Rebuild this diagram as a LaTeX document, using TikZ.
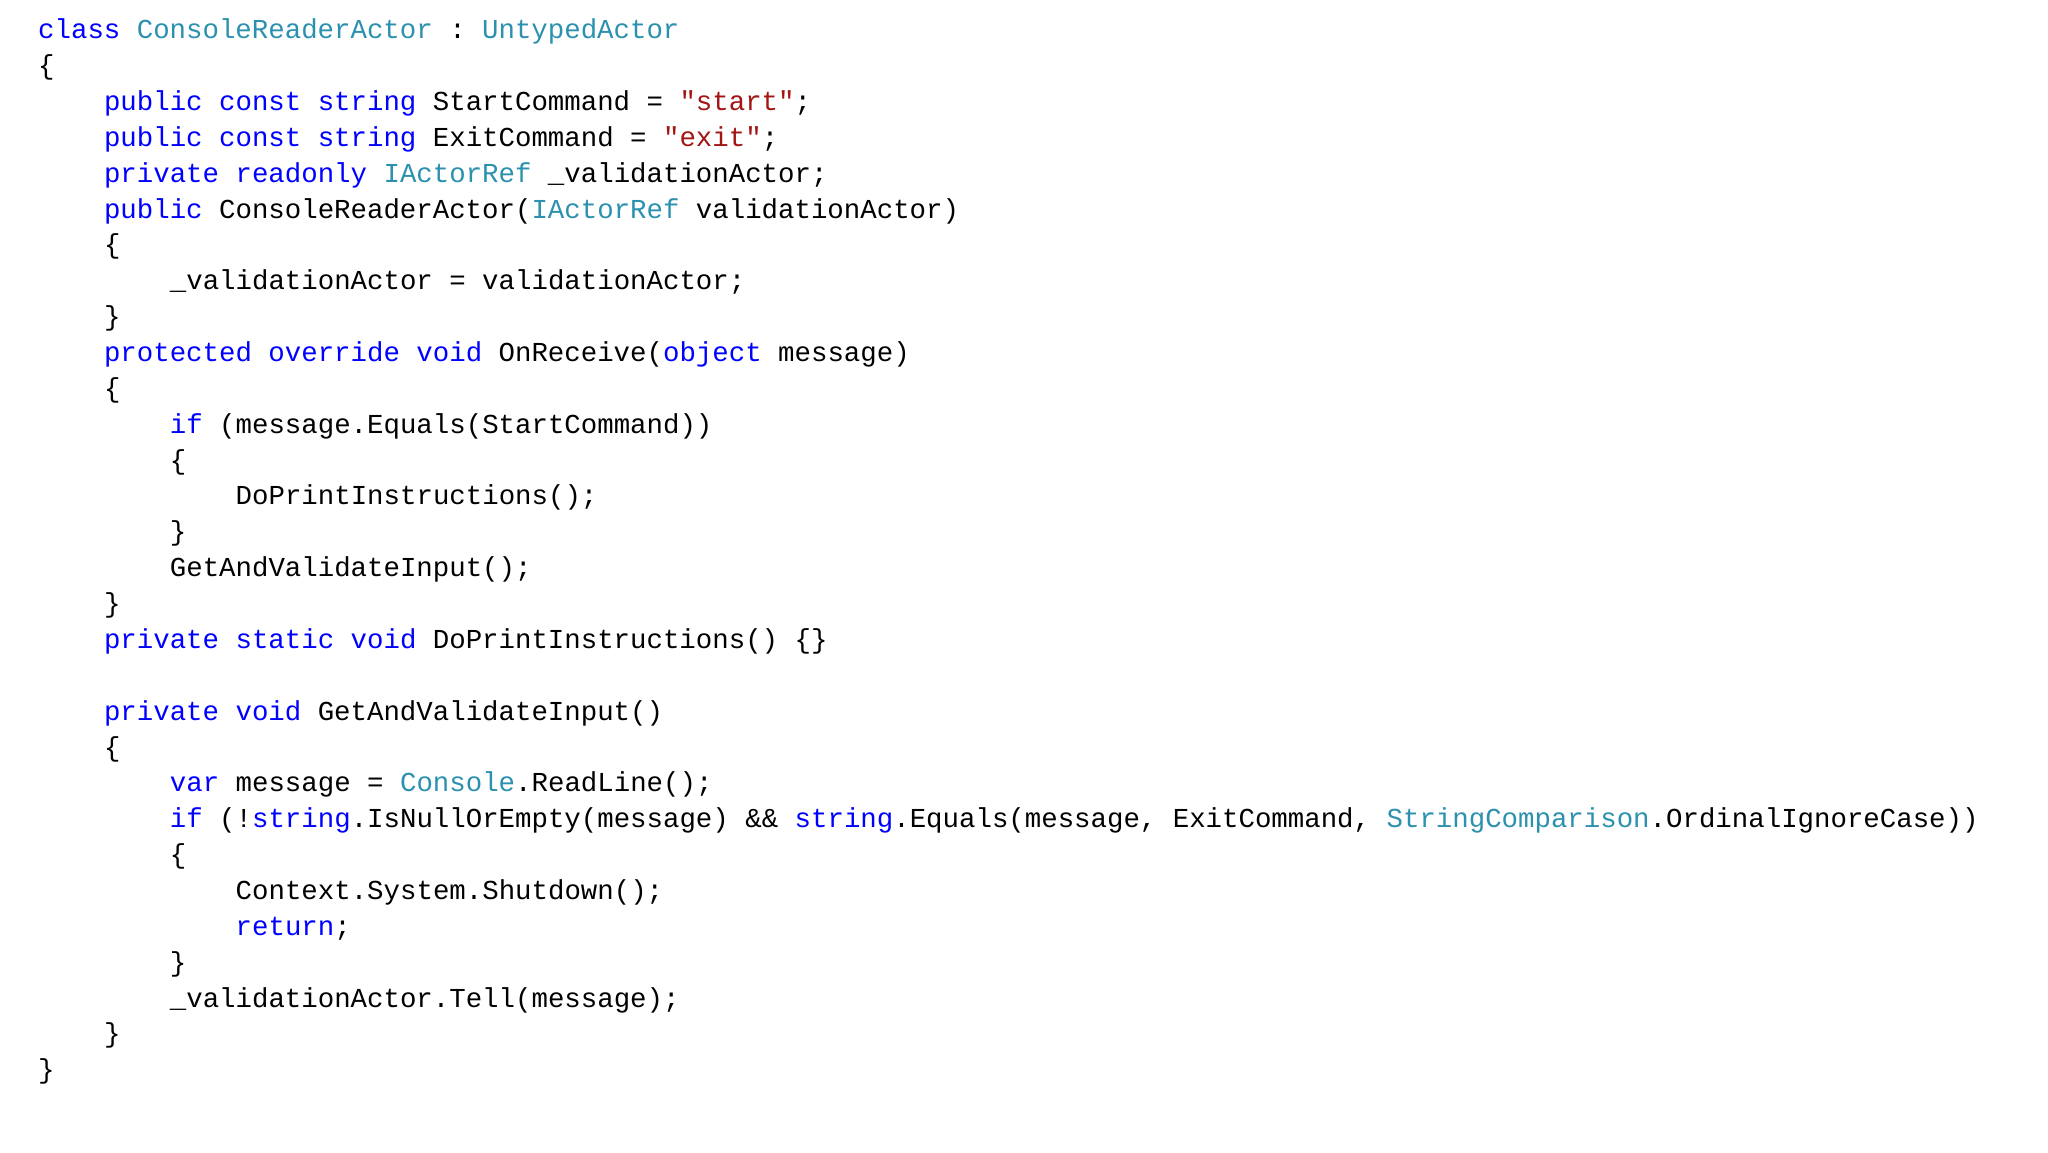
\documentclass[tikz,border=0pt]{standalone}
\usepackage{fontspec}
\setmonofont{Liberation Mono}
\definecolor{kwc}{HTML}{0000FF}
\definecolor{tyc}{HTML}{2B91AF}
\definecolor{stc}{HTML}{A31515}
\newcommand{\kw}[1]{\textcolor{kwc}{#1}}
\newcommand{\ty}[1]{\textcolor{tyc}{#1}}
\newcommand{\stx}[1]{\textcolor{stc}{#1}}
\tikzset{codeline/.style={anchor=base west,inner sep=0pt,font=\ttfamily\fontsize{13.7pt}{16pt}\selectfont}}
\begin{document}
\begin{tikzpicture}[x=1pt,y=-1pt]
\useasboundingbox (0,0) rectangle (1024,576);
\def\L#1#2#3{\node[codeline] (l#1) at ({18.9+#2*8.23},{19.4+#1*17.93}) {#3};}
\L{0}{0}{\kw{class} \ty{ConsoleReaderActor} : \ty{UntypedActor}}
\L{1}{0}{\{}
\L{2}{4}{\kw{public} \kw{const} \kw{string} StartCommand = \stx{"start"};}
\L{3}{4}{\kw{public} \kw{const} \kw{string} ExitCommand = \stx{"exit"};}
\L{4}{4}{\kw{private} \kw{readonly} \ty{IActorRef} \_validationActor;}
\L{5}{4}{\kw{public} ConsoleReaderActor(\ty{IActorRef} validationActor)}
\L{6}{4}{\{}
\L{7}{8}{\_validationActor = validationActor;}
\L{8}{4}{\}}
\L{9}{4}{\kw{protected} \kw{override} \kw{void} OnReceive(\kw{object} message)}
\L{10}{4}{\{}
\L{11}{8}{\kw{if} (message.Equals(StartCommand))}
\L{12}{8}{\{}
\L{13}{12}{DoPrintInstructions();}
\L{14}{8}{\}}
\L{15}{8}{GetAndValidateInput();}
\L{16}{4}{\}}
\L{17}{4}{\kw{private} \kw{static} \kw{void} DoPrintInstructions() \{\}}
\L{19}{4}{\kw{private} \kw{void} GetAndValidateInput()}
\L{20}{4}{\{}
\L{21}{8}{\kw{var} message = \ty{Console}.ReadLine();}
\L{22}{8}{\kw{if} (!\kw{string}.IsNullOrEmpty(message) \&\& \kw{string}.Equals(message, ExitCommand, \ty{StringComparison}.OrdinalIgnoreCase))}
\L{23}{8}{\{}
\L{24}{12}{Context.System.Shutdown();}
\L{25}{12}{\kw{return};}
\L{26}{8}{\}}
\L{27}{8}{\_validationActor.Tell(message);}
\L{28}{4}{\}}
\L{29}{0}{\}}
\end{tikzpicture}
\end{document}
